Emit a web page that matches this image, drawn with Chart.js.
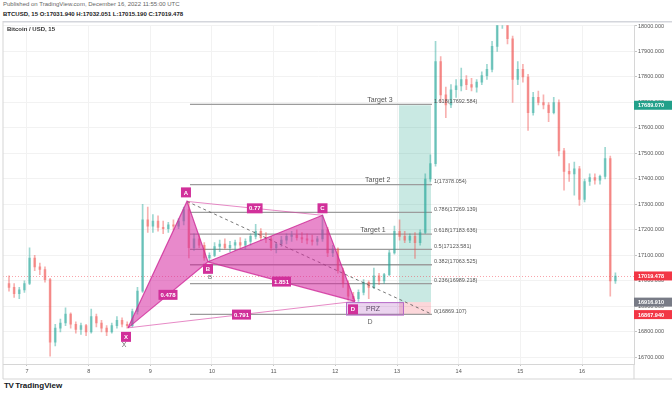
<!DOCTYPE html>
<html>
<head>
<meta charset="utf-8">
<script src="https://cdn.jsdelivr.net/npm/chart.js@4.4.0/dist/chart.umd.min.js"></script>
<style>
  html, body { margin: 0; padding: 0; background: #fff; width: 672px; height: 395px; overflow: hidden;
    font-family: "Liberation Sans", Arial, sans-serif; }
  #pub { position: absolute; left: 3px; top: 1px; font-size: 6px; color: #666; white-space: nowrap; }
  #ohlc { position: absolute; left: 3px; top: 11px; font-size: 6px; color: #222; font-weight: bold; white-space: nowrap; }
  #wrap { position: absolute; left: 0; top: 21px; width: 672px; height: 359px; }
  #logo { position: absolute; left: 4px; top: 381px; font-size: 8px; color: #131722; font-weight: bold; white-space: nowrap; }
  #logo b { font-weight: 900; letter-spacing: -0.5px; margin-right: 2px; }
</style>
</head>
<body>
<div id="pub">Published on TradingView.com, December 16, 2022 11:55:00 UTC</div>
<div id="ohlc">BTCUSD, 15 O:17031.940 H:17032.051 L:17015.190 C:17019.478</div>
<div id="wrap"><canvas id="chart"></canvas></div>
<div id="logo"><b>TV</b>TradingView</div>
<script>
// 2-hour candles, Dec 6 16:00 UTC -> Dec 16 12:00 UTC (day-of-December on the x axis)
const startDay = 6.7083;
const candleDays = 2 / 24;
const opens = [16990, 16975, 16950, 16965, 16990, 17090, 17055, 17045, 17005, 16760,
  16815, 16835, 16870, 16830, 16810, 16825, 16800, 16860, 16835, 16815,
  16800, 16825, 16845, 16830, 16825, 16880, 16960, 17240, 17215, 17235,
  17210, 17205, 17220, 17215, 17235, 17280, 17130, 17165, 17140, 17090,
  17100, 17135, 17145, 17130, 17140, 17150, 17140, 17155, 17175, 17195,
  17170, 17165, 17130, 17145, 17160, 17175, 17180, 17170, 17165, 17160,
  17155, 17165, 17200, 17110, 17125, 17040, 16990, 16940, 16930, 16955,
  16995, 16975, 17020, 17000, 17025, 17110, 17195, 17175, 17160, 17175,
  17150, 17190, 17400, 17460, 17860, 17730, 17690, 17750, 17765, 17790,
  17770, 17760, 17780, 17805, 17830, 17920, 18010, 18040, 17950, 17790,
  17830, 17800, 17660, 17720, 17700, 17690, 17660, 17700, 17510, 17430,
  17420, 17440, 17320, 17390, 17405, 17395, 17410, 17480, 17000];
const highs = [17020, 16990, 16975, 17000, 17130, 17100, 17070, 17055, 17010, 16830,
  16850, 16895, 16875, 16840, 16835, 16830, 16890, 16870, 16845, 16825,
  16835, 16860, 16855, 16840, 16890, 16975, 17300, 17290, 17260, 17255,
  17235, 17230, 17240, 17245, 17290, 17312, 17185, 17180, 17150, 17110,
  17150, 17160, 17165, 17155, 17160, 17170, 17165, 17185, 17222, 17205,
  17190, 17175, 17150, 17175, 17185, 17195, 17200, 17190, 17185, 17180,
  17175, 17258, 17210, 17140, 17130, 17050, 17000, 16955, 16965, 17005,
  17000, 17050, 17030, 17030, 17120, 17215, 17240, 17195, 17185, 17190,
  17200, 17420, 17495, 17940, 17880, 17760, 17770, 17790, 17835, 17805,
  17795, 17790, 17820, 17850, 17940, 18050, 18080, 18060, 17960, 17860,
  17850, 17810, 17740, 17745, 17730, 17700, 17720, 17710, 17520, 17460,
  17466, 17450, 17400, 17420, 17420, 17415, 17524, 17490, 17032];
const lows = [16960, 16935, 16930, 16955, 16985, 17040, 17025, 16995, 16705, 16745,
  16800, 16825, 16815, 16795, 16790, 16785, 16795, 16820, 16800, 16785,
  16795, 16815, 16820, 16815, 16820, 16870, 16955, 17190, 17190, 17195,
  17185, 17190, 17200, 17205, 17220, 17090, 17120, 17130, 17080, 17075,
  17095, 17115, 17125, 17115, 17120, 17130, 17125, 17140, 17165, 17160,
  17150, 17120, 17110, 17135, 17145, 17155, 17160, 17150, 17145, 17140,
  17140, 17155, 17095, 17095, 17030, 16975, 16925, 16920, 16920, 16945,
  16930, 16970, 16985, 16990, 17020, 17105, 17160, 17150, 17150, 17088,
  17140, 17185, 17390, 17450, 17700, 17640, 17680, 17720, 17745, 17750,
  17745, 17740, 17770, 17790, 17820, 17900, 17990, 17930, 17700, 17770,
  17780, 17590, 17650, 17690, 17675, 17625, 17655, 17490, 17356, 17390,
  17336, 17296, 17310, 17375, 17380, 17380, 17400, 16940, 16990];
const closes = [16975, 16950, 16965, 16990, 17090, 17055, 17045, 17005, 16760, 16815,
  16835, 16870, 16830, 16810, 16825, 16800, 16860, 16835, 16815, 16800,
  16825, 16845, 16830, 16825, 16880, 16960, 17240, 17215, 17235, 17210,
  17205, 17220, 17215, 17235, 17280, 17130, 17165, 17140, 17090, 17100,
  17135, 17145, 17130, 17140, 17150, 17140, 17155, 17175, 17195, 17170,
  17165, 17130, 17145, 17160, 17175, 17180, 17170, 17165, 17160, 17155,
  17165, 17200, 17110, 17125, 17040, 16990, 16940, 16930, 16955, 16995,
  16975, 17020, 17000, 17025, 17110, 17195, 17175, 17160, 17175, 17150,
  17190, 17400, 17460, 17860, 17730, 17690, 17750, 17765, 17790, 17770,
  17760, 17780, 17805, 17830, 17920, 18010, 18040, 17950, 17790, 17830,
  17800, 17660, 17720, 17700, 17690, 17660, 17700, 17510, 17430, 17420,
  17440, 17320, 17390, 17405, 17395, 17410, 17480, 17000, 17019.478];

// harmonic pattern X A B C D
const patternNames = ['X', 'A', 'B', 'C', 'D'];
const patternDays = [8.638, 9.594, 9.935, 11.792, 12.319];
const patternPrices = [16816, 17312, 17075, 17257.5, 16920];
const ratioLabels = ['0.478', '0.77', '1.851', '0.791'];
const ratioLegs = [[0, 2], [1, 3], [2, 4], [0, 4]];

// fib levels and targets
const fibRatios = ['0', '0.236', '0.382', '0.5', '0.618', '0.786', '1', '1.618'];
const fibPrices = [16869.107, 16989.218, 17063.525, 17123.581, 17183.636, 17269.139, 17378.054, 17692.584];
const fibStartDay = 9.643;
const fibEndDay = 13.567;
const targetNames = ['Target 1', 'Target 2', 'Target 3'];
const targetPrices = [17183.636, 17378.054, 17692.584];
const targetDays = [12.611, 12.687, 12.724];

// long position tool + PRZ
const entryPrice = 16916.91;
const stopPrice = 16867.94;
const profitPrice = 17689.07;
const positionDays = [13.032, 13.551];
const przDays = [12.173, 13.097];

const dayTicks = ['7', '8', '9', '10', '11', '12', '13', '14', '15', '16'];

const up = 'rgba(38, 166, 154, 0.45)';
const down = 'rgba(239, 83, 80, 0.45)';
const pinkFill = 'rgba(214, 40, 160, 0.55)';
const pinkEdge = 'rgba(205, 40, 150, 0.8)';
const pinkThin = 'rgba(214, 60, 160, 0.6)';
const magenta = '#d1309a';

const times = closes.map((_, i) => startDay + i * candleDays);
const candleColors = closes.map((c, i) => c >= opens[i] ? up : down);
const pt = i => ({x: patternDays[i], y: patternPrices[i]});

function line(data, extra) {
    return Object.assign({type: 'line', data, pointRadius: 0, borderWidth: 1.2, borderColor: pinkEdge,
        fill: false, tension: 0, order: 0}, extra);
}

const overlay = {
    id: 'overlay',
    beforeDatasetsDraw(chart) {
        const ctx = chart.ctx, xs = chart.scales.x, ys = chart.scales.y, a = chart.chartArea;
        const X = d => xs.getPixelForValue(d), Y = p => ys.getPixelForValue(p);
        ctx.save();
        // position boxes
        ctx.fillStyle = 'rgba(8, 153, 129, 0.22)';
        ctx.fillRect(X(positionDays[0]), Y(profitPrice), X(positionDays[1]) - X(positionDays[0]), Y(entryPrice) - Y(profitPrice));
        ctx.fillStyle = 'rgba(242, 54, 69, 0.2)';
        ctx.fillRect(X(positionDays[0]), Y(entryPrice), X(positionDays[1]) - X(positionDays[0]), Y(stopPrice) - Y(entryPrice));
        // current price line
        ctx.strokeStyle = 'rgba(242, 54, 69, 0.45)';
        ctx.lineWidth = 1;
        ctx.setLineDash([1, 2]);
        const cy = Math.round(Y(closes[closes.length - 1])) + 0.5;
        ctx.beginPath(); ctx.moveTo(a.left, cy); ctx.lineTo(a.right, cy); ctx.stroke();
        ctx.setLineDash([]);
        // fib lines
        ctx.strokeStyle = '#9c9c9c';
        ctx.lineWidth = 1.3;
        fibPrices.forEach(p => {
            const y = Y(p);
            ctx.beginPath(); ctx.moveTo(X(fibStartDay), y); ctx.lineTo(X(fibEndDay), y); ctx.stroke();
        });
        ctx.restore();
    },
    afterDatasetsDraw(chart) {
        const ctx = chart.ctx, xs = chart.scales.x, ys = chart.scales.y;
        const X = d => xs.getPixelForValue(d), Y = p => ys.getPixelForValue(p);
        ctx.save();
        // PRZ box
        const px0 = X(przDays[0]), px1 = X(przDays[1]);
        ctx.fillStyle = 'rgba(156, 39, 176, 0.2)';
        ctx.fillRect(px0, Y(entryPrice), px1 - px0, Y(stopPrice) - Y(entryPrice));
        ctx.strokeStyle = '#b56ac8';
        ctx.lineWidth = 1;
        ctx.strokeRect(px0 + 0.5, Y(entryPrice) + 0.5, px1 - px0, Y(stopPrice) - Y(entryPrice));
        ctx.font = '7px "Liberation Sans", Arial, sans-serif';
        ctx.fillStyle = '#5e4a66';
        ctx.textAlign = 'left'; ctx.textBaseline = 'middle';
        ctx.fillText('PRZ', px0 + 20, (Y(entryPrice) + Y(stopPrice)) / 2 + 0.5);

        // fib labels
        ctx.font = '5.5px "Liberation Sans", Arial, sans-serif';
        ctx.fillStyle = '#555';
        ctx.textAlign = 'left'; ctx.textBaseline = 'bottom';
        fibPrices.forEach((p, i) => ctx.fillText(fibRatios[i] + '(' + p.toFixed(3) + ')', X(fibEndDay) + 2, Y(p) - 0.5));
        // targets
        ctx.font = '7px "Liberation Sans", Arial, sans-serif';
        ctx.fillStyle = '#555';
        ctx.textAlign = 'center';
        targetNames.forEach((t, i) => ctx.fillText(t, X(targetDays[i]), Y(targetPrices[i]) - 1));

        // boxed labels
        function box(text, cx, cy, minW) {
            ctx.font = 'bold 6px "Liberation Sans", Arial, sans-serif';
            const w = Math.max(ctx.measureText(text).width + 4, minW);
            ctx.fillStyle = magenta;
            ctx.fillRect(cx - w / 2, cy - 5, w, 10);
            ctx.fillStyle = '#fff';
            ctx.textAlign = 'center'; ctx.textBaseline = 'middle';
            ctx.fillText(text, cx, cy + 0.5);
        }
        ratioLegs.forEach(([s, e], i) => {
            box(ratioLabels[i], (X(patternDays[s]) + X(patternDays[e])) / 2, (Y(patternPrices[s]) + Y(patternPrices[e])) / 2, 10);
        });
        const offs = [[-2, 9], [-1, -9], [0, 7], [0, -7], [-2, 8]];
        patternNames.forEach((n, i) => box(n, X(patternDays[i]) + offs[i][0], Y(patternPrices[i]) + offs[i][1], 10));
        // gray point letters
        ctx.font = '7px "Liberation Sans", Arial, sans-serif';
        ctx.fillStyle = '#666';
        ctx.textBaseline = 'middle';
        ctx.fillText('X', X(patternDays[0]) - 4, Y(patternPrices[0]) + 17);
        ctx.font = '6px "Liberation Sans", Arial, sans-serif';
        ctx.fillText('B', X(patternDays[2]) + 2, Y(patternPrices[2]) + 16);
        ctx.font = '7px "Liberation Sans", Arial, sans-serif';
        ctx.fillText('D', X(patternDays[4]) + 15, Y(patternPrices[4]) + 21);
        ctx.restore();
    },
    afterDraw(chart) {
        const ctx = chart.ctx, ys = chart.scales.y, a = chart.chartArea;
        const W = chart.width;
        ctx.save();
        // frame
        ctx.fillStyle = '#d4d6dc';
        ctx.fillRect(3, 0, W - 3, 1.5);
        ctx.fillStyle = '#d6d6d6';
        ctx.fillRect(2.5, 0, 1, chart.height - 1);
        ctx.fillRect(3, chart.height - 1.5, W - 3, 1);
        ctx.fillRect(a.right - 0.5, a.bottom, 1, chart.height - a.bottom - 1);
        // title
        ctx.font = 'bold 6px "Liberation Sans", Arial, sans-serif';
        ctx.fillStyle = '#333';
        ctx.textAlign = 'left'; ctx.textBaseline = 'middle';
        ctx.fillText('Bitcoin / USD, 15', 7, 8);
        // price tags on the axis
        const tags = [[profitPrice, '#22a08a'], [closes[closes.length - 1], '#f23645'], [entryPrice, '#787b86'], [stopPrice, '#f23645']];
        tags.forEach(([p, c]) => {
            const y = ys.getPixelForValue(p);
            ctx.fillStyle = c;
            ctx.fillRect(a.right, y - 4.5, W - a.right, 9);
            ctx.fillStyle = '#fff';
            ctx.font = 'bold 5.5px "Liberation Sans", Arial, sans-serif';
            ctx.fillText(p.toFixed(3), a.right + 4, y + 0.5);
        });
        ctx.restore();
    }
};

new Chart(document.getElementById('chart'), {
    type: 'bar',
    data: {
        datasets: [
            line([pt(0), pt(1), pt(2)], {fill: '+1', backgroundColor: pinkFill}),
            line([pt(0), pt(2)]),
            line([pt(2), pt(3), pt(4)], {fill: '+1', backgroundColor: pinkFill}),
            line([pt(2), pt(4)]),
            line([pt(1), pt(3)], {borderColor: pinkThin, borderWidth: 1}),
            line([pt(0), pt(4)], {borderColor: pinkThin, borderWidth: 1}),
            line([pt(1), {x: fibEndDay, y: fibPrices[0]}], {borderColor: '#555', borderWidth: 0.8, borderDash: [3, 3]}),
            {type: 'bar', data: times.map((t, i) => ({x: t, y: [opens[i], closes[i]]})), backgroundColor: candleColors,
                barThickness: 2, minBarLength: 1, grouped: false, order: 2},
            {type: 'bar', data: times.map((t, i) => ({x: t, y: [lows[i], highs[i]]})), backgroundColor: candleColors,
                barThickness: 1, grouped: false, order: 3}
        ]
    },
    options: {
        responsive: true,
        maintainAspectRatio: false,
        animation: false,
        layout: {padding: {left: 3, top: 1, right: 0, bottom: 0}},
        plugins: {legend: {display: false}, tooltip: {enabled: false}},
        scales: {
            x: {
                type: 'linear', min: 6.611, max: 16.843, offset: false,
                afterFit: s => { s.height = 16; },
                ticks: {stepSize: 1, includeBounds: false, autoSkip: false, maxRotation: 0, padding: 2,
                    color: '#555', font: {family: '"Liberation Sans", Arial, sans-serif', size: 5.5},
                    callback: v => dayTicks[v - 7] ?? ''},
                grid: {offset: false, color: '#f2f2f2', tickLength: 2, tickColor: '#c4c4c4'},
                border: {color: '#d6d6d6'}
            },
            y: {
                position: 'right', min: 16674.2, max: 18002.7,
                afterFit: s => { s.width = 38; },
                ticks: {stepSize: 100, includeBounds: false, autoSkip: false, padding: 1,
                    color: '#555', font: {family: '"Liberation Sans", Arial, sans-serif', size: 5.5},
                    callback: v => v.toFixed(3)},
                grid: {color: '#f2f2f2', tickLength: 3, tickColor: '#c4c4c4'},
                border: {color: '#d6d6d6'}
            }
        }
    },
    plugins: [overlay]
});
</script>
</body>
</html>
